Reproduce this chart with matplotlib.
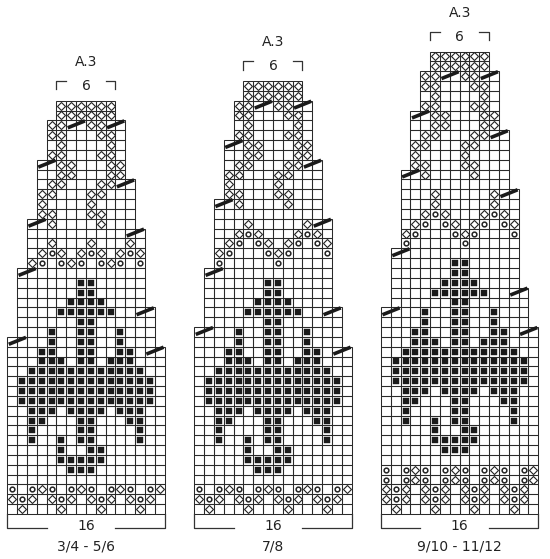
import matplotlib
matplotlib.use("Agg")
import matplotlib.pyplot as plt
from matplotlib.patches import Rectangle

# ---- data ----
B1 = ".D...D...D...D.."
B2 = "DOD.DOD.DOD.DOD."
B3 = "O.ODO.ODO.ODO.OD"
E = "................"
motif = [
    "......###.......",
    ".....#####......",
    ".....#..##......",
    "..#..#.##....#..",
    "..#....##....#..",
    "..##...##...##..",
    "..###.####.###..",
    ".##############.",
    ".##############.",
    ".##############.",
    "..############..",
    "...###.##.###...",
    "...##..##..##...",
    "....#..##..#....",
    "....#..##..#....",
    ".......##.......",
    ".....######.....",
    "......####......",
    ".......##.......",
    ".......##.......",
]
top_part = [
    "....D....D......",
    "...DD...DD......",
    "...D....D.......",
    "...DD...DD......",
    "....DD...DD.....",
    ".....DD...DD....",
    ".....DD...DD....",
    "....DD...DD.....",
    ".....D....D.....",
    "....DD...DD.....",
    "....DD..DD......",
    ".....DDDDDD.....",
    ".....DDDDDD.....",
]
chart1_rows = [B1, B2, B3, E] + motif + [
    E,
    "..DO.ODO.ODO.O..",
    "...DOD.DOD.DOD..",
    "....D...D...D...",
    E,
] + top_part
chart2_rows = [B1, B2, B3, E] + motif + [
    E,
    "..O.....O.......",
    "..DO...ODO...O..",
    "...DO.OD.DO.OD..",
    "....DOD...DOD...",
    ".....D.....D....",
    E,
] + top_part
chart3_rows = [B1, B2, B2, B3, B3, E] + motif + [
    E,
    "..O.....O.......",
    "..DO...ODO...O..",
    "...DO.OD.DO.OD..",
    "....DOD...DOD...",
    ".....D.....D....",
    ".....D.....D....",
    E,
] + top_part

chart1_left = [(18, 0), (7, 1), (5, 2), (6, 3), (4, 4), (2, 5)]
chart1_right = [(17, 16), (4, 15), (8, 14), (5, 13), (6, 12), (2, 11)]
chart2_left = [(19, 0), (6, 1), (7, 2), (6, 3), (4, 4), (2, 5)]
chart2_right = [(17, 16), (4, 15), (9, 14), (6, 13), (6, 12), (2, 11)]
chart3_left = [(21, 0), (6, 1), (8, 2), (6, 3), (4, 4), (2, 5)]
chart3_right = [(19, 16), (4, 15), (10, 14), (6, 13), (6, 12), (2, 11)]

chart1_slash = [(18, 0), (25, 1), (30, 2), (36, 3), (17, 14), (21, 13), (29, 12), (34, 11), (40, 6), (40, 10)]
chart2_slash = [(19, 0), (25, 1), (32, 2), (38, 3), (17, 14), (21, 13), (30, 12), (36, 11), (42, 6), (42, 10)]
chart3_slash = [(21, 0), (27, 1), (35, 2), (41, 3), (19, 14), (23, 13), (33, 12), (39, 11), (45, 6), (45, 10)]

top_label = "A.3"
top_count = "6"
bottom_count = "16"
size_labels = ["3/4 - 5/6", "7/8", "9/10 - 11/12"]

charts = [
    (chart1_rows, chart1_left, chart1_right, chart1_slash, 7.3),
    (chart2_rows, chart2_left, chart2_right, chart2_slash, 194.3),
    (chart3_rows, chart3_left, chart3_right, chart3_slash, 381.0),
]

# ---- drawing ----
W, H = 550, 559
fig = plt.figure(figsize=(W / 100, H / 100), dpi=100)
ax = fig.add_axes([0, 0, 1, 1])
ax.set_xlim(0, W)
ax.set_ylim(H, 0)
ax.axis("off")

cw, ch = 9.83, 9.84
bottom = 514.0
font = dict(family="DejaVu Sans", fontsize=10, color="#222222")


def expand(runs):
    out = []
    for n, v in runs:
        out += [v] * n
    return out


for idx, (rows, lr, rr, slashes, x0) in enumerate(charts):
    lefts, rights = expand(lr), expand(rr)
    n = len(rows)
    for r in range(n):
        ytop = bottom - (r + 1) * ch
        for c in range(lefts[r], rights[r]):
            x = x0 + c * cw
            ax.add_patch(Rectangle((x, ytop), cw, ch, fill=False, ec="#2a2a2a", lw=0.75))
            s = rows[r][c]
            cx, cy = x + cw / 2, ytop + ch / 2
            if s == "D":
                ax.plot(cx, cy, marker="D", ms=4.4, mfc="white", mec="#222222", mew=0.8)
            elif s == "O":
                ax.plot(cx, cy, marker="o", ms=3.4, mfc="white", mec="#222222", mew=1.1)
            elif s == "#":
                ax.plot(cx, cy, marker="s", ms=3.9, mfc="#1a1a1a", mec="#1a1a1a", mew=0.3)
    for (r, c) in slashes:
        ybot = bottom - (r - 1) * ch
        x = x0 + c * cw
        ax.plot([x + 0.15 * cw, x + 1.9 * cw], [ybot - 0.25 * ch, ybot - 0.95 * ch],
                color="#1a1a1a", lw=2.6, solid_capstyle="butt")
    # top bracket
    gtop = bottom - n * ch
    xl, xr = x0 + 5 * cw, x0 + 11 * cw
    yb = gtop - 20
    ax.plot([xl, xl, xl + cw], [yb + 8.5, yb, yb], color="#333333", lw=0.9)
    ax.plot([xr - cw, xr, xr], [yb, yb, yb + 8.5], color="#333333", lw=0.9)
    ax.text((xl + xr) / 2, yb + 5, top_count, ha="center", va="center", **font)
    ax.text((xl + xr) / 2, gtop - 39, top_label, ha="center", va="center", **font)
    # bottom bracket
    xl, xr = x0, x0 + 16 * cw
    ybb = bottom + 14
    ax.plot([xl, xl, xl + 4 * cw], [bottom, ybb, ybb], color="#333333", lw=0.9)
    ax.plot([xr - 5 * cw, xr, xr], [ybb, ybb, bottom], color="#333333", lw=0.9)
    ax.text((xl + xr) / 2, ybb - 2, bottom_count, ha="center", va="center", **font)
    ax.text((xl + xr) / 2, 547, size_labels[idx], ha="center", va="center", **font)

fig.savefig("out.png", dpi=100)
